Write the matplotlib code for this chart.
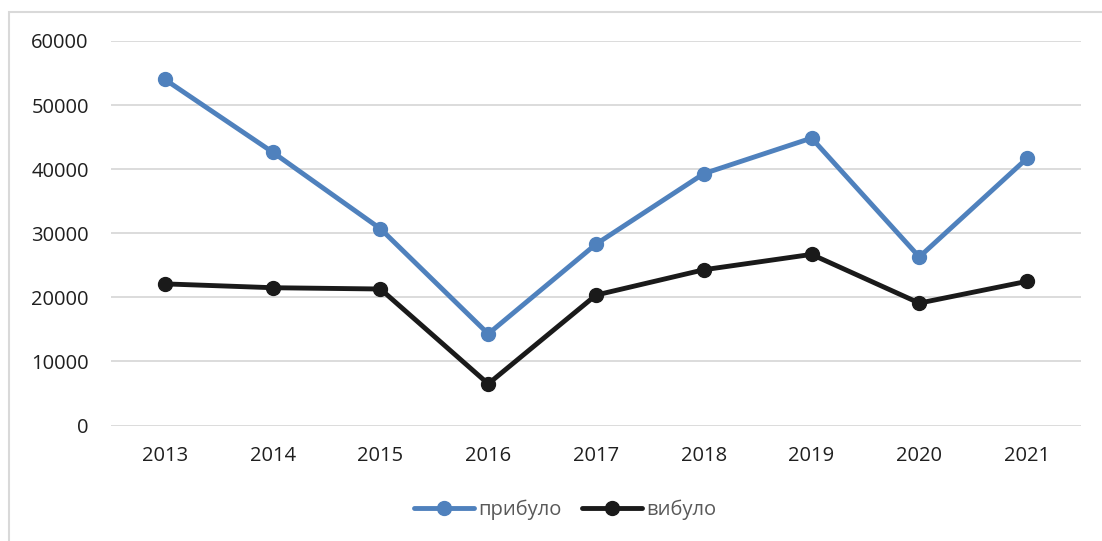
import matplotlib
matplotlib.use('Agg')
from matplotlib import pyplot as plt
from matplotlib.patches import Rectangle

# years on the x axis
years = ['2013', '2014', '2015', '2016', '2017', '2018', '2019', '2020', '2021']

# series values
prybulo = [54000, 42650, 30700, 14300, 28300, 39300, 44850, 26300, 41700]
vybulo = [22100, 21500, 21300, 6500, 20350, 24300, 26700, 19100, 22500]

y_ticks = [0, 10000, 20000, 30000, 40000, 50000, 60000]

plt.rcParams['font.family'] = ['Open Sans', 'DejaVu Sans']

fig = plt.figure(figsize=(11.02, 5.41), dpi=100)
ax = fig.add_axes([111 / 1102, 1 - 425.5 / 541, (1081 - 111) / 1102, (425.5 - 41) / 541])

x = list(range(len(years)))
ax.plot(x, prybulo, color='#4F81BD', lw=3.5, marker='o', ms=10,
        label='прибуло', solid_capstyle='round', zorder=3)
ax.plot(x, vybulo, color='#1A1A1A', lw=3.5, marker='o', ms=10,
        label='вибуло', solid_capstyle='round', zorder=3)

ax.set_xlim(-0.5, len(years) - 0.5)
ax.set_ylim(0, 60000)
ax.set_yticks(y_ticks)
ax.set_yticklabels([str(v) for v in y_ticks])
ax.set_xticks(x)
ax.set_xticklabels(years)
ax.grid(axis='y', color='#D9D9D9', lw=1.3, zorder=0)
ax.tick_params(axis='both', length=0, labelsize=14.5, colors='#1F1F1F')
ax.tick_params(axis='y', pad=16)
ax.tick_params(axis='x', pad=15)
for s in ax.spines.values():
    s.set_visible(False)

leg = fig.legend(loc='center', bbox_to_anchor=(565 / 1102, 1 - 510 / 541),
                 ncol=2, frameon=False, fontsize=14.5, handlelength=3.0,
                 columnspacing=1.0, handletextpad=0.2)
for t in leg.get_texts():
    t.set_color('#595959')

# outer chart frame
fig.patches.append(Rectangle((9 / 1102, -0.05), 1.2, 1 - 12 / 541 + 0.05,
                             transform=fig.transFigure, fill=False,
                             edgecolor='#D9D9D9', lw=1.5))

plt.savefig('out.png', dpi=100)
